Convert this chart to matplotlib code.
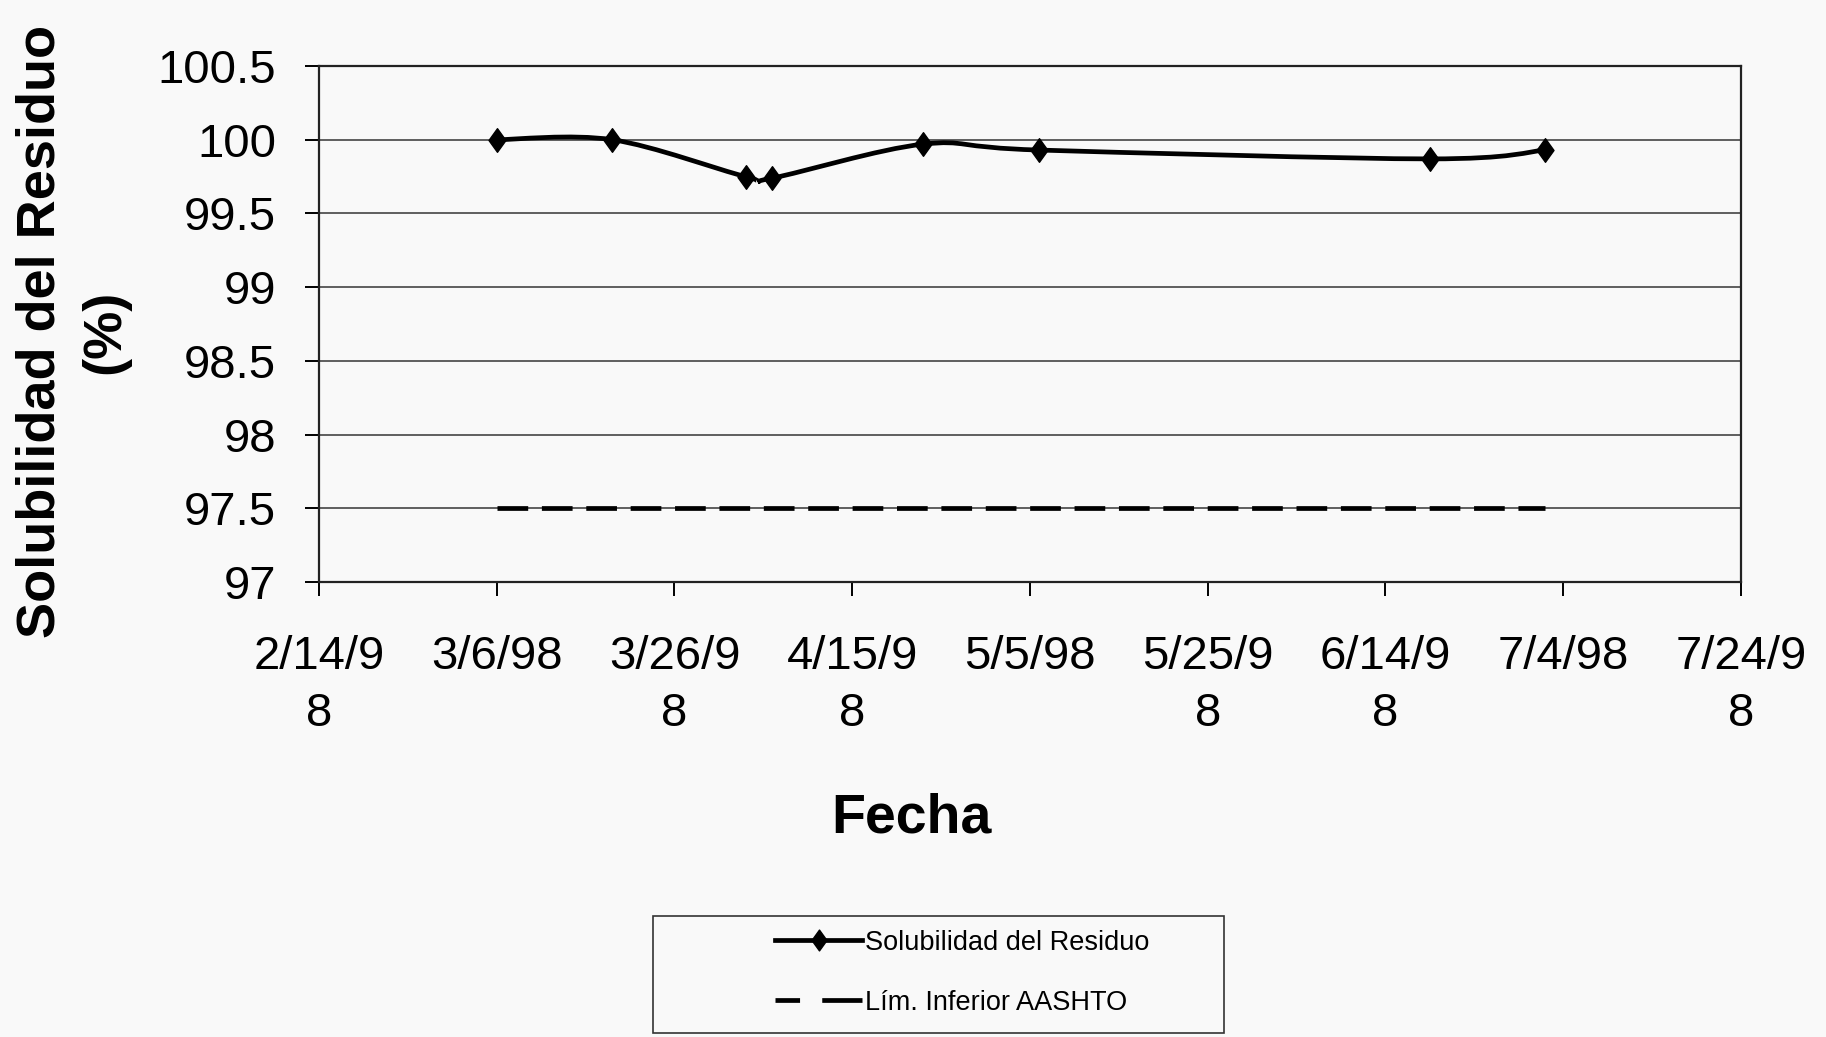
import numpy as np
import pandas as pd
import matplotlib
matplotlib.use('Agg')
import matplotlib.pyplot as plt
import matplotlib.dates as mdates
from matplotlib.path import Path
from matplotlib.patches import PathPatch, Rectangle
from matplotlib.lines import Line2D

# data
fechas = ['1998-03-06', '1998-03-19', '1998-04-03', '1998-04-06',
          '1998-04-23', '1998-05-06', '1998-06-19', '1998-07-02']
solubilidad = [100.0, 100.0, 99.75, 99.74, 99.97, 99.93, 99.87, 99.93]
lim_inferior = [97.5] * len(fechas)

tick_fechas = ['1998-02-14', '1998-03-06', '1998-03-26', '1998-04-15', '1998-05-05',
               '1998-05-25', '1998-06-14', '1998-07-04', '1998-07-24']
tick_labels = ['2/14/9\n8', '3/6/98', '3/26/9\n8', '4/15/9\n8', '5/5/98',
               '5/25/9\n8', '6/14/9\n8', '7/4/98', '7/24/9\n8']
y_ticks = [97, 97.5, 98, 98.5, 99, 99.5, 100, 100.5]

plt.rcParams['font.family'] = ['Liberation Sans', 'DejaVu Sans']
bg = '#f9f9f9'

fig = plt.figure(figsize=(18.26, 10.37), dpi=100, facecolor=bg)
ax = fig.add_axes([319 / 1826, 1 - 582 / 1037, (1741 - 319) / 1826, (582 - 66) / 1037])
ax.set_facecolor(bg)

x = mdates.date2num(pd.to_datetime(fechas))
y = np.array(solubilidad)


def smooth_path(xs, ys, t=1 / 6):
    # Excel-style smoothed line: cubic bezier through the points
    pts = np.column_stack([xs, ys])
    n = len(pts)
    verts = [pts[0]]
    codes = [Path.MOVETO]
    for i in range(n - 1):
        p_prev = pts[i - 1] if i > 0 else pts[i]
        p_next2 = pts[i + 2] if i + 2 < n else pts[i + 1]
        c1 = pts[i] + (pts[i + 1] - p_prev) * t
        c2 = pts[i + 1] - (p_next2 - pts[i]) * t
        verts += [c1, c2, pts[i + 1]]
        codes += [Path.CURVE4] * 3
    return Path(verts, codes)


diamond = Path([(0, 1), (0.72, 0), (0, -1), (-0.72, 0), (0, 1)],
               [Path.MOVETO, Path.LINETO, Path.LINETO, Path.LINETO, Path.CLOSEPOLY])

ax.add_patch(PathPatch(smooth_path(x, y), fill=False, edgecolor='black', lw=3.4, zorder=3))
ax.plot(x, y, linestyle='none', marker=diamond, markersize=17, color='black', zorder=4)
ax.plot(x, lim_inferior, color='black', lw=3.4, dashes=(6.5, 2.9), zorder=3)

ax.set_xlim(mdates.date2num(pd.Timestamp('1998-02-14')), mdates.date2num(pd.Timestamp('1998-07-24')))
ax.set_ylim(97, 100.5)
ax.set_xticks(mdates.date2num(pd.to_datetime(tick_fechas)))
ax.set_xticklabels(tick_labels, linespacing=1.4)
ax.set_yticks(y_ticks)
ax.set_yticklabels(['%g' % v for v in y_ticks])

ax.grid(axis='y', color='#444444', lw=1.2)
ax.set_axisbelow(True)
for s in ax.spines.values():
    s.set_linewidth(1.6)
    s.set_color('#222222')
ax.tick_params(axis='y', length=10, width=1.4, pad=21, labelsize=34)
ax.tick_params(axis='x', length=10, width=1.4, pad=28, labelsize=34)

fig.text(73 / 1826, 0.68, 'Solubilidad del Residuo\n(%)', rotation=90, ha='center', va='center',
         fontsize=39, fontweight='bold', linespacing=1.38)
fig.text(0.499, 0.211, 'Fecha', ha='center', va='center', fontsize=40, fontweight='bold')

# legend
h1 = Line2D([], [], color='black', lw=3.4, marker=diamond, markersize=15)
h2 = Line2D([], [], color='black', lw=3.4, dashes=(5.2, 4.7, 8.7, 10))
fig.legend([h1, h2], ['Solubilidad del Residuo', 'Lím. Inferior AASHTO'],
           loc='center', bbox_to_anchor=(0.527, 0.062), frameon=False,
           prop={'size': 19.5},
           handlelength=3.2, handletextpad=0.1, labelspacing=1.25)
fig.patches.append(Rectangle((653 / 1826, 1 - 1033 / 1037), (1224 - 653) / 1826, (1033 - 916) / 1037,
                             transform=fig.transFigure, fill=False, ec='#333333', lw=1.2))

fig.savefig('out.png', dpi=100, facecolor=bg)
